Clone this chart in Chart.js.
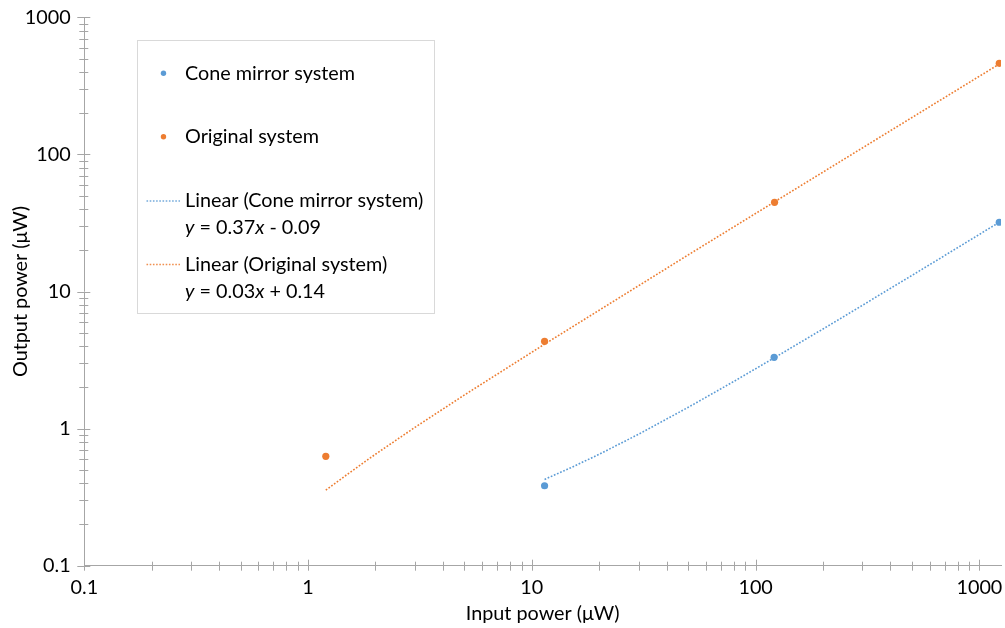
<!DOCTYPE html>
<html>
<head>
<meta charset="utf-8">
<script src="https://cdn.jsdelivr.net/npm/chart.js@4/dist/chart.umd.min.js"></script>
<style>
  html, body { margin: 0; padding: 0; background: #ffffff; }
  #wrap { width: 1005px; height: 628px; position: relative; }
</style>
</head>
<body>
<div id="wrap"><canvas id="c" width="1005" height="628"></canvas></div>
<script>
// ---- data ----
const coneX = [11.4, 121, 1227];
const coneY = [0.383, 3.31, 32.0];
const origX = [1.2, 11.4, 121.5, 1227];
const origY = [0.628, 4.33, 44.7, 462];

// trendline values
const coneTrendX = [11.4, 15, 20, 30, 50, 80, 121, 200, 300, 600, 1227];
const coneTrendY = [0.426, 0.52, 0.65, 0.91, 1.43, 2.21, 3.28, 5.33, 7.93, 15.7, 32.0];
const origTrendX = [1.2, 1.5, 2, 3, 5, 11.4, 50, 121, 400, 1227];
const origTrendY = [0.356, 0.465, 0.65, 1.02, 1.76, 4.13, 18.5, 44.9, 148.7, 456];

const seriesNames = ['Cone mirror system', 'Original system'];
const trendNames = ['Linear (Cone mirror system)', 'Linear (Original system)'];
const trendEquations = [
  [['y', true], [' = 0.37', false], ['x', true], [' - 0.09', false]],
  [['y', true], [' = 0.03', false], ['x', true], [' + 0.14', false]]
];
const xTickLabels = ['0.1', '1', '10', '100', '1000'];
const yTickLabels = ['0.1', '1', '10', '100', '1000'];
const xTitle = 'Input power (\u03bcW)';
const yTitle = 'Output power (\u03bcW)';

const BLUE = '#5B9BD5';
const ORANGE = '#ED7D31';
const AXIS = '#A6A6A6';
const FONT = 'Lato';
const FS = 19.8;

function pts(xs, ys) { return xs.map((x, i) => ({ x: x, y: ys[i] })); }

function logTicks(scale) {
  const out = [];
  const lo = Math.floor(Math.log10(scale.min));
  const hi = Math.ceil(Math.log10(scale.max));
  for (let e = lo; e <= hi; e++) {
    for (let m = 1; m <= 9; m++) {
      const v = parseFloat((m * Math.pow(10, e)).toPrecision(6));
      if (v >= scale.min * 0.9999 && v <= scale.max * 1.0001) out.push({ value: v, major: m === 1 });
    }
  }
  scale.ticks = out;
}

function labelFor(list) {
  return function (value) {
    const s = String(parseFloat(Number(value).toPrecision(6)));
    return list.indexOf(s) >= 0 ? s : '';
  };
}

// crossing tick marks drawn on the library's scales
const crossTicks = {
  id: 'crossTicks',
  afterDatasetsDraw(chart) {
    const ctx = chart.ctx;
    const xs = chart.scales.x, ys = chart.scales.y;
    const area = chart.chartArea;
    ctx.save();
    ctx.strokeStyle = AXIS;
    ctx.lineWidth = 1;
    ctx.beginPath();
    xs.ticks.forEach(t => {
      const px = Math.round(xs.getPixelForValue(t.value)) + 0.5;
      if (px > area.right + 1) return;
      const a = t.major ? 6 : 4;
      ctx.moveTo(px, area.bottom - a);
      ctx.lineTo(px, area.bottom + 5);
    });
    ys.ticks.forEach(t => {
      const py = Math.round(ys.getPixelForValue(t.value)) + 0.5;
      const a = t.major ? 6 : 4;
      ctx.moveTo(area.left - a - 1, py);
      ctx.lineTo(area.left + a, py);
    });
    ctx.stroke();
    ctx.restore();
  }
};

// legend box like the original
const boxLegend = {
  id: 'boxLegend',
  afterDraw(chart) {
    const ctx = chart.ctx;
    ctx.save();
    ctx.fillStyle = '#ffffff';
    ctx.fillRect(137.5, 40.5, 297, 273);
    ctx.strokeStyle = '#D9D9D9';
    ctx.lineWidth = 1;
    ctx.strokeRect(137.5, 40.5, 297, 273);

    ctx.font = FS + 'px ' + FONT;
    ctx.fillStyle = '#000000';
    ctx.textBaseline = 'middle';
    ctx.textAlign = 'left';

    const markerColors = [BLUE, ORANGE];
    const markerY = [73.3, 136.7];
    seriesNames.forEach((name, i) => {
      ctx.beginPath();
      ctx.fillStyle = markerColors[i];
      ctx.arc(163.5, markerY[i], 2.7, 0, Math.PI * 2);
      ctx.fill();
      ctx.fillStyle = '#000000';
      ctx.fillText(name, 185, markerY[i]);
    });

    const lineY = [201, 264.5];
    const eqY = [228, 291.5];
    trendNames.forEach((name, i) => {
      ctx.save();
      ctx.strokeStyle = markerColors[i];
      ctx.globalAlpha = 0.85;
      ctx.lineWidth = 1.3;
      ctx.setLineDash([1.6, 1.6]);
      ctx.beginPath();
      ctx.moveTo(146.5, lineY[i]);
      ctx.lineTo(180, lineY[i]);
      ctx.stroke();
      ctx.restore();
      ctx.fillStyle = '#000000';
      ctx.font = FS + 'px ' + FONT;
      ctx.fillText(name, 185, lineY[i]);
      let x = 185;
      trendEquations[i].forEach(seg => {
        ctx.font = (seg[1] ? 'italic ' : '') + FS + 'px ' + FONT;
        ctx.fillText(seg[0], x, eqY[i]);
        x += ctx.measureText(seg[0]).width;
      });
    });
    ctx.restore();
  }
};

const chart = new Chart(document.getElementById('c'), {
  type: 'scatter',
  data: {
    datasets: [
      { label: seriesNames[0], data: pts(coneX, coneY), showLine: false,
        backgroundColor: BLUE, borderColor: BLUE, pointRadius: 3.6, pointBorderWidth: 0, order: 0 },
      { label: seriesNames[1], data: pts(origX, origY), showLine: false,
        backgroundColor: ORANGE, borderColor: ORANGE, pointRadius: 3.6, pointBorderWidth: 0, order: 0 },
      { label: trendNames[0], data: pts(coneTrendX, coneTrendY), showLine: true, pointRadius: 0,
        borderColor: BLUE, borderWidth: 1.6, borderDash: [1.7, 1.7], tension: 0, fill: false, order: 1 },
      { label: trendNames[1], data: pts(origTrendX, origTrendY), showLine: true, pointRadius: 0,
        borderColor: ORANGE, borderWidth: 1.6, borderDash: [1.7, 1.7], tension: 0, fill: false, order: 1 }
    ]
  },
  options: {
    responsive: false,
    animation: false,
    devicePixelRatio: 1,
    layout: { padding: { top: 17.3, left: 0, right: 0, bottom: 0 } },
    plugins: { legend: { display: false }, tooltip: { enabled: false } },
    scales: {
      x: {
        type: 'logarithmic', min: 0.1, max: 1249, position: 'bottom',
        grid: { display: false, drawTicks: false },
        border: { display: true, color: AXIS, width: 1 },
        afterBuildTicks: logTicks,
        afterFit(s) { s.height = 62.3; s.paddingLeft = 0; s.paddingRight = 0; },
        ticks: { autoSkip: false, maxRotation: 0, minRotation: 0, padding: 9.8, color: '#000000',
                 font: { family: FONT, size: FS }, callback: labelFor(xTickLabels) },
        title: { display: true, text: xTitle, color: '#000000', font: { family: FONT, size: FS },
                 padding: { top: 0, bottom: 2.1 } }
      },
      y: {
        type: 'logarithmic', min: 0.1, max: 1000, position: 'left',
        grid: { display: false, drawTicks: false },
        border: { display: true, color: AXIS, width: 1 },
        afterBuildTicks: logTicks,
        afterFit(s) { s.width = 84.3; s.paddingTop = 0; s.paddingBottom = 0; },
        ticks: { autoSkip: false, padding: 13.6, color: '#000000',
                 font: { family: FONT, size: FS }, callback: labelFor(yTickLabels) },
        title: { display: true, text: yTitle, color: '#000000', font: { family: FONT, size: FS },
                 padding: { top: 8.8, bottom: 0 } }
      }
    }
  },
  plugins: [crossTicks, boxLegend]
});
</script>
</body>
</html>
